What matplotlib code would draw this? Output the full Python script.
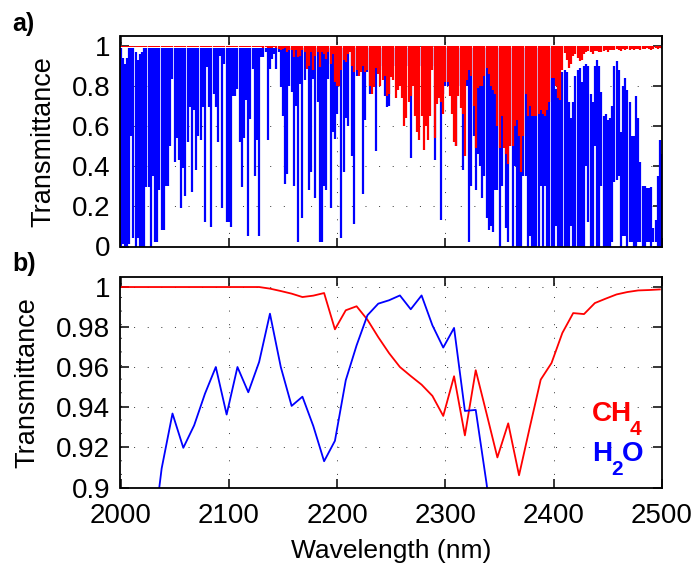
import matplotlib
matplotlib.use('Agg')
import matplotlib.pyplot as plt
import numpy as np

plt.rcParams['font.family'] = ['Liberation Sans', 'DejaVu Sans']

# panel a: lowest and highest transmittance per 2 nm column
spectrum_nm = np.arange(2000, 2501, 2)

h2o_low = [
    0, .01, 0, 0, .01, .55, .04, 0, .04, 0,
    0, 0, .295, .295, 0, .35, .02, .02, .28, .08,
    .08, .30, .30, .50, .835, .42, .54, .43, .19, .39,
    .25, .52, .695, .27, .68, .38, .55, .53, .695, .12,
    .895, .695, .095, .76, .695, .52, .95, .19, .91, .12,
    .12, .095, .75, .75, .785, .52, .295, .54, .73, .05,
    .635, .885, .35, .53, .05, .945, .945, .97, .53, .885,
    .935, .96, .885, .97, .795, .65, .31, .36, .80, .77,
    .30, .70, .02, .81, .14, .83, .885, .28, .37, .835,
    .24, .72, .02, .02, .30, .28, .835, .19, .57, .535,
    .66, .80, .04, .37, .64, .60, .97, .45, .11, .85,
    .87, .97, .26, .63, .87, .76, .87, .90, .475, .90,
    .90, .88, .75, .695, .70, .90, .90, .90, .90, .90,
    .90, .90, .90, .90, .44, .80, .90, .90, .90, .90,
    .90, .90, .90, .90, .90, .43, .85, .75, .13, .76,
    .80, .80, .80, .80, .75, .50, .80, .80, .38, .80,
    .80, .02, .30, .55, .28, .46, .40, .24, .35, .14,
    .08, .10, .07, .28, .28, 0, .30, .55, .09, .02,
    .50, 0, .40, 0, 0, 0, .35, .35, 0, .05,
    0, 0, 0, 0, .30, 0, .30, 0, 0, 0,
    0, .10, 0, 0, 0, 0, 0, 0, .10, 0,
    0, 0, 0, 0, .0, .40, .12, 0, 0, .50,
    0, 0, .30, 0, 0, 0, 0, .02, .32, .33,
    .35, 0, .05, .05, 0, .02, .02, 0, 0, .02,
    .02, 0, 0, .02, .02, 0, .02, .02, 0, 0,
    0,
]

h2o_top = [.99, .94, .91, .94, .99, .99, .99, .97, .93, .96, .97] + [.99] * 190 + [
    .785, .80, .84, .87, .88, .87, .72, .64, .72, .85,
    .88, .89, .82, .90, .91, .90, .76, .72, .90, .93,
    .90, .77, .65, .66, .63, .64, .70, .90, .925, .88,
    .57, .80, .84, .78, .72, .55, .55, .75, .64, .42,
    .30, .30, .29, .29, .295, .09, .13, .35, .53, .46,
]

ch4_low = [.995] * 66 + [
    .99, .995, .99, .99, .99, .995, .99, .985, .98, .985,
    .99, .97, .98, .98, .945, .98, .945, .95, .98, .97,
    .885, .90, .97, .88, .95, .97, .895, .97, .96, .935,
    .97, .91, .96, .82, .80, .80, .88, .93, .92, .96,
    .97, .90, .87, .88, .85, .87, .90, .87, .88, .80,
    .76, .795, .89, .86, .80, .83, .85, .75, .76, .845,
    .83, .74, .78, .80, .74, .60, .64, .72, .75, .80,
    .65, .57, .53, .65, .48, .60, .53, .65, .88, .54,
    .71, .74, .72, .66, .82, .82, .75, .66, .52, .50,
    .75, .69, .66, .45, .83, .88, .85, .70, .49, .79,
    .80, .80, .85, .89, .86, .80, .78, .76, .60, .49,
    .65, .49, .46, .41, .50, .50, .60, .63, .55, .37,
    .55, .76, .65, .70, .65, .65, .65, .66, .68, .66,
    .65, .68, .72, .84, .84, .80, .74, .73, .88, .965,
    .93, .89, .91, .95, .96, .94, .925, .93, .96, .97,
    .975, .97, .96, .975, .975, .97, .97, .975, .98, .97,
    .98, .98, .98, .985, .98, .975, .985, .98, .985, .98,
    .985, .98, .985, .985, .98, .985, .985, .99, .985, .98,
    .985, .99, .985, .99, .985,
]

# panel b: 10 nm resolution spectra
ch4_nm = np.arange(1998, 2499, 10)
ch4_res = [
    1.0, 1.0, 1.0, 1.0, 1.0, 1.0, 1.0, 1.0, 1.0, 1.0,
    1.0, 1.0, 1.0, 1.0, .9992, .998, .9967, .995, .9957, .997,
    .9789, .9884, .9904, .9837, .975, .967, .9601, .9556, .9513, .9457,
    .9357, .9555, .926, .9585, .9369, .915, .932, .9061, .9302, .9538,
    .9621, .9771, .987, .9865, .992, .9942, .9963, .9975, .9983, .9985,
    .9988,
]
h2o_nm = np.arange(2028, 2349, 10)
h2o_res = [
    .866, .9095, .9369, .9198, .931, .9468, .9601, .9364, .9601, .9475,
    .9626, .9867, .9601, .9407, .9453, .9307, .9131, .9233, .9535, .9709,
    .9859, .9917, .9934, .9958, .9889, .9958, .9809, .9698, .9796, .9382,
    .9387, .902, .86,
]

x_ticks = [2000, 2100, 2200, 2300, 2400, 2500]
a_ticks = [0, .2, .4, .6, .8, 1]
a_labels = ['0', '0.2', '0.4', '0.6', '0.8', '1']
b_ticks = [.9, .92, .94, .96, .98, 1]
b_labels = ['0.9', '0.92', '0.94', '0.96', '0.98', '1']

W, H = 695, 563
fig = plt.figure(figsize=(W / 100, H / 100), dpi=100)
ax_a = fig.add_axes([120.5 / W, 1 - 246.5 / H, 541.5 / W, 210.5 / H])
ax_b = fig.add_axes([120.5 / W, 1 - 487.5 / H, 541.5 / W, 210.5 / H])


def style_axes(ax):
    ax.set_xlim(2000, 2500)
    ax.set_xticks(x_ticks)
    ax.grid(True, color='#333333', linewidth=0.7, linestyle=(0, (1, 13)))
    ax.set_axisbelow(True)
    ax.tick_params(direction='in', top=True, right=True, length=6.5, width=1.1,
                   labelsize=20)
    ax.tick_params(axis='y', pad=7.5)
    ax.tick_params(axis='x', pad=11.5)
    for s in ax.spines.values():
        s.set_linewidth(1.3)
        s.set_zorder(5)


ax_a.vlines(spectrum_nm, h2o_low, h2o_top, color='#0000ff', linewidth=1.6, zorder=2)
ax_a.vlines(spectrum_nm, ch4_low, 1.0, color='#ff0000', linewidth=1.6, zorder=3)
style_axes(ax_a)
ax_a.set_ylim(0, 1.05)
ax_a.set_yticks(a_ticks)
ax_a.set_yticklabels(a_labels)
ax_a.set_xticklabels([])
ax_a.set_ylabel('Transmittance', fontsize=19.5, labelpad=11)

ax_b.plot(ch4_nm, ch4_res, color='#ff0000', linewidth=1.3, zorder=3)
ax_b.plot(h2o_nm, h2o_res, color='#0000ff', linewidth=1.3, zorder=3)
style_axes(ax_b)
ax_b.set_ylim(.9, 1.005)
ax_b.set_yticks(b_ticks)
ax_b.set_yticklabels(b_labels)
ax_b.set_xlabel('Wavelength (nm)', fontsize=19, labelpad=7)
ax_b.set_ylabel('Transmittance', fontsize=19.5, labelpad=11)

fig.text(12 / W, 1 - 31 / H, 'a)', fontsize=18, fontweight='bold')
fig.text(12 / W, 1 - 271 / H, 'b)', fontsize=18, fontweight='bold')

# legend labels, subscripts sit well below the baseline in the original
fig.text(592 / W, 1 - 421 / H, 'CH', fontsize=20, fontweight='bold', color='#ff0000')
fig.text(630 / W, 1 - 435 / H, '4', fontsize=15, fontweight='bold', color='#ff0000')
fig.text(592 / W, 1 - 461 / H, 'H', fontsize=20, fontweight='bold', color='#0000ff')
fig.text(611 / W, 1 - 475 / H, '2', fontsize=15, fontweight='bold', color='#0000ff')
fig.text(622 / W, 1 - 461 / H, 'O', fontsize=20, fontweight='bold', color='#0000ff')

fig.savefig('out.png', dpi=100)
